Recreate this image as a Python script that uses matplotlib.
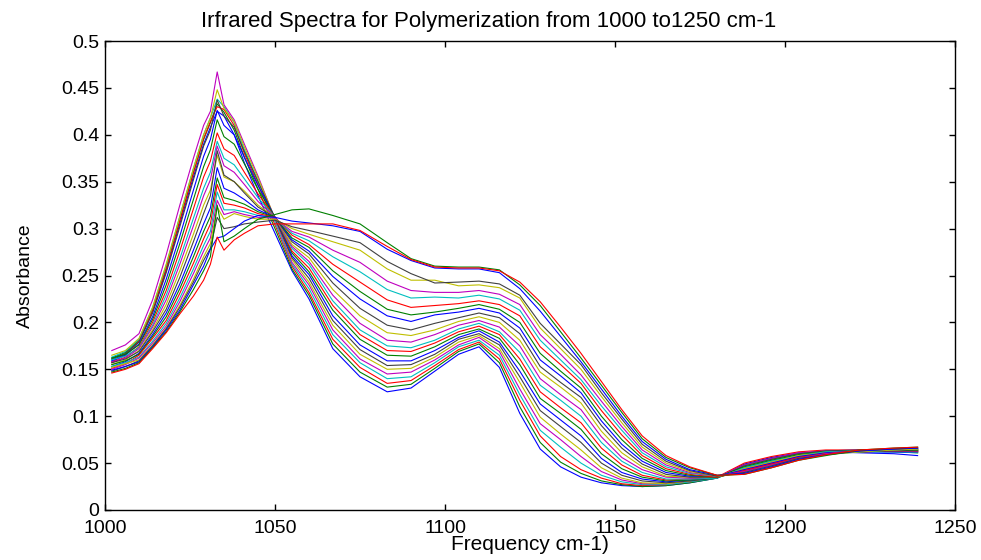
import numpy as np
import matplotlib
matplotlib.use('Agg')
import matplotlib.pyplot as plt

# Frecuencias (cm-1) donde se leyeron los valores de absorbancia
freq = [1002, 1006, 1010, 1014, 1018, 1022, 1026, 1029, 1031, 1033, 1035, 1038, 1041, 1045,
        1050, 1055, 1060, 1067, 1075, 1083, 1090, 1097, 1104, 1110, 1116, 1122, 1128, 1134,
        1140, 1146, 1152, 1158, 1165, 1172, 1180, 1188, 1196, 1204, 1212, 1222, 1232, 1239]

# Una fila por frecuencia, 24 espectros por fila (espectro 1 ... espectro 24)
r1002 = [0.160, 0.162, 0.158, 0.163, 0.170, 0.165, 0.161, 0.159, 0.162, 0.157, 0.160, 0.158, 0.155, 0.157, 0.153, 0.155, 0.151, 0.153, 0.150, 0.152, 0.148, 0.149, 0.147, 0.146]
r1006 = [0.166, 0.168, 0.165, 0.169, 0.176, 0.170, 0.167, 0.165, 0.166, 0.163, 0.164, 0.162, 0.160, 0.161, 0.158, 0.159, 0.156, 0.157, 0.155, 0.156, 0.153, 0.153, 0.151, 0.150]
r1010 = [0.180, 0.181, 0.180, 0.182, 0.188, 0.183, 0.179, 0.177, 0.176, 0.174, 0.173, 0.172, 0.170, 0.169, 0.167, 0.166, 0.165, 0.163, 0.162, 0.160, 0.159, 0.158, 0.157, 0.156]
r1014 = [0.212, 0.214, 0.213, 0.216, 0.224, 0.216, 0.210, 0.206, 0.203, 0.200, 0.197, 0.195, 0.192, 0.190, 0.187, 0.185, 0.183, 0.180, 0.178, 0.176, 0.175, 0.174, 0.173, 0.172]
r1018 = [0.255, 0.258, 0.257, 0.261, 0.272, 0.262, 0.253, 0.246, 0.240, 0.234, 0.229, 0.224, 0.219, 0.214, 0.210, 0.206, 0.202, 0.199, 0.196, 0.194, 0.193, 0.192, 0.190, 0.189]
r1022 = [0.305, 0.309, 0.308, 0.313, 0.325, 0.313, 0.302, 0.292, 0.284, 0.276, 0.268, 0.262, 0.255, 0.248, 0.241, 0.236, 0.231, 0.226, 0.222, 0.218, 0.216, 0.213, 0.211, 0.209]
r1026 = [0.355, 0.360, 0.359, 0.364, 0.375, 0.364, 0.352, 0.341, 0.331, 0.321, 0.311, 0.303, 0.294, 0.286, 0.277, 0.270, 0.263, 0.257, 0.252, 0.246, 0.243, 0.240, 0.235, 0.228]
r1029 = [0.390, 0.395, 0.396, 0.400, 0.410, 0.400, 0.388, 0.377, 0.366, 0.355, 0.343, 0.335, 0.325, 0.316, 0.305, 0.297, 0.289, 0.282, 0.276, 0.270, 0.266, 0.260, 0.255, 0.245]
r1031 = [0.408, 0.413, 0.414, 0.418, 0.425, 0.418, 0.405, 0.395, 0.384, 0.372, 0.360, 0.352, 0.341, 0.335, 0.322, 0.313, 0.305, 0.297, 0.290, 0.284, 0.279, 0.278, 0.270, 0.262]
r1033 = [0.425, 0.433, 0.430, 0.438, 0.467, 0.448, 0.437, 0.426, 0.416, 0.402, 0.393, 0.388, 0.378, 0.383, 0.365, 0.354, 0.347, 0.339, 0.330, 0.323, 0.312, 0.290, 0.325, 0.291]
r1035 = [0.420, 0.424, 0.427, 0.430, 0.432, 0.428, 0.420, 0.410, 0.398, 0.385, 0.375, 0.367, 0.355, 0.357, 0.343, 0.333, 0.327, 0.320, 0.315, 0.310, 0.300, 0.292, 0.286, 0.277]
r1038 = [0.400, 0.405, 0.410, 0.413, 0.416, 0.414, 0.408, 0.400, 0.390, 0.378, 0.368, 0.360, 0.350, 0.350, 0.338, 0.330, 0.325, 0.320, 0.318, 0.316, 0.302, 0.300, 0.292, 0.288]
r1041 = [0.370, 0.376, 0.380, 0.384, 0.390, 0.387, 0.382, 0.376, 0.369, 0.360, 0.353, 0.347, 0.340, 0.338, 0.331, 0.326, 0.322, 0.318, 0.315, 0.313, 0.305, 0.308, 0.300, 0.295]
r1045 = [0.335, 0.342, 0.347, 0.351, 0.356, 0.354, 0.350, 0.346, 0.342, 0.337, 0.333, 0.329, 0.325, 0.323, 0.320, 0.318, 0.316, 0.314, 0.312, 0.310, 0.307, 0.314, 0.310, 0.303]
r1050 = [0.295, 0.300, 0.304, 0.307, 0.310, 0.311, 0.311, 0.312, 0.312, 0.312, 0.312, 0.312, 0.312, 0.312, 0.312, 0.312, 0.312, 0.311, 0.311, 0.310, 0.309, 0.312, 0.315, 0.305]
r1055 = [0.255, 0.257, 0.260, 0.262, 0.264, 0.267, 0.269, 0.271, 0.274, 0.276, 0.279, 0.281, 0.283, 0.286, 0.288, 0.290, 0.293, 0.295, 0.297, 0.300, 0.302, 0.308, 0.320, 0.305]
r1060 = [0.225, 0.229, 0.232, 0.236, 0.240, 0.243, 0.247, 0.251, 0.254, 0.258, 0.262, 0.265, 0.269, 0.273, 0.276, 0.280, 0.283, 0.287, 0.291, 0.294, 0.298, 0.306, 0.321, 0.305]
r1067 = [0.172, 0.177, 0.182, 0.187, 0.192, 0.197, 0.202, 0.207, 0.213, 0.218, 0.223, 0.229, 0.235, 0.242, 0.249, 0.255, 0.262, 0.270, 0.277, 0.286, 0.292, 0.303, 0.314, 0.305]
r1075 = [0.142, 0.147, 0.152, 0.157, 0.161, 0.166, 0.171, 0.176, 0.182, 0.187, 0.192, 0.199, 0.207, 0.215, 0.225, 0.233, 0.243, 0.254, 0.264, 0.277, 0.285, 0.297, 0.305, 0.298]
r1083 = [0.126, 0.131, 0.135, 0.140, 0.145, 0.150, 0.154, 0.159, 0.165, 0.170, 0.175, 0.181, 0.189, 0.197, 0.207, 0.214, 0.224, 0.235, 0.244, 0.257, 0.265, 0.278, 0.285, 0.281]
r1090 = [0.130, 0.134, 0.138, 0.142, 0.147, 0.151, 0.155, 0.159, 0.164, 0.169, 0.173, 0.179, 0.186, 0.192, 0.201, 0.208, 0.216, 0.226, 0.234, 0.245, 0.252, 0.266, 0.268, 0.267]
r1097 = [0.148, 0.151, 0.154, 0.157, 0.160, 0.163, 0.166, 0.170, 0.174, 0.178, 0.181, 0.187, 0.192, 0.199, 0.208, 0.211, 0.218, 0.227, 0.232, 0.245, 0.242, 0.258, 0.260, 0.259]
r1104 = [0.166, 0.169, 0.171, 0.174, 0.176, 0.179, 0.182, 0.184, 0.187, 0.190, 0.193, 0.197, 0.201, 0.205, 0.211, 0.215, 0.220, 0.226, 0.232, 0.239, 0.243, 0.257, 0.259, 0.258]
r1110 = [0.174, 0.177, 0.179, 0.181, 0.184, 0.186, 0.188, 0.191, 0.193, 0.196, 0.199, 0.202, 0.206, 0.210, 0.215, 0.219, 0.223, 0.229, 0.234, 0.240, 0.244, 0.257, 0.259, 0.258]
r1116 = [0.152, 0.157, 0.161, 0.165, 0.169, 0.172, 0.176, 0.179, 0.183, 0.187, 0.190, 0.195, 0.200, 0.205, 0.210, 0.214, 0.219, 0.225, 0.230, 0.237, 0.241, 0.253, 0.256, 0.255]
r1122 = [0.103, 0.110, 0.117, 0.123, 0.129, 0.136, 0.142, 0.148, 0.155, 0.161, 0.168, 0.175, 0.181, 0.188, 0.194, 0.200, 0.207, 0.213, 0.219, 0.226, 0.229, 0.236, 0.240, 0.243]
r1128 = [0.065, 0.072, 0.079, 0.085, 0.092, 0.099, 0.106, 0.113, 0.119, 0.126, 0.133, 0.140, 0.147, 0.153, 0.160, 0.167, 0.174, 0.181, 0.187, 0.194, 0.199, 0.212, 0.218, 0.222]
r1134 = [0.046, 0.051, 0.057, 0.067, 0.075, 0.081, 0.089, 0.096, 0.103, 0.109, 0.117, 0.123, 0.131, 0.136, 0.143, 0.148, 0.155, 0.160, 0.166, 0.172, 0.177, 0.185, 0.190, 0.195]
r1140 = [0.035, 0.039, 0.043, 0.050, 0.057, 0.064, 0.072, 0.079, 0.086, 0.093, 0.100, 0.107, 0.114, 0.120, 0.125, 0.130, 0.135, 0.139, 0.144, 0.150, 0.155, 0.158, 0.162, 0.167]
r1146 = [0.029, 0.031, 0.034, 0.037, 0.041, 0.045, 0.050, 0.055, 0.060, 0.066, 0.072, 0.078, 0.084, 0.090, 0.095, 0.100, 0.106, 0.111, 0.116, 0.121, 0.125, 0.129, 0.133, 0.137]
r1152 = [0.026, 0.027, 0.028, 0.030, 0.032, 0.034, 0.037, 0.040, 0.044, 0.048, 0.052, 0.056, 0.061, 0.066, 0.070, 0.075, 0.080, 0.085, 0.089, 0.093, 0.097, 0.100, 0.104, 0.107]
r1158 = [0.025, 0.025, 0.026, 0.027, 0.028, 0.029, 0.031, 0.033, 0.035, 0.037, 0.040, 0.043, 0.046, 0.049, 0.052, 0.055, 0.058, 0.061, 0.064, 0.067, 0.070, 0.073, 0.076, 0.079]
r1165 = [0.026, 0.026, 0.027, 0.027, 0.028, 0.028, 0.029, 0.030, 0.031, 0.032, 0.033, 0.035, 0.036, 0.038, 0.040, 0.042, 0.044, 0.046, 0.048, 0.050, 0.052, 0.054, 0.056, 0.058]
r1172 = [0.029, 0.029, 0.030, 0.030, 0.031, 0.031, 0.031, 0.032, 0.032, 0.033, 0.033, 0.034, 0.035, 0.035, 0.036, 0.037, 0.038, 0.039, 0.040, 0.041, 0.042, 0.043, 0.045, 0.046]
r1180 = [0.034, 0.034, 0.035, 0.034, 0.035, 0.035, 0.034, 0.035, 0.035, 0.035, 0.034, 0.035, 0.035, 0.035, 0.036, 0.035, 0.035, 0.036, 0.036, 0.036, 0.036, 0.037, 0.037, 0.037]
r1188 = [0.049, 0.048, 0.050, 0.047, 0.048, 0.046, 0.047, 0.045, 0.046, 0.044, 0.045, 0.043, 0.044, 0.042, 0.043, 0.041, 0.042, 0.040, 0.041, 0.039, 0.040, 0.039, 0.038, 0.038]
r1196 = [0.056, 0.055, 0.057, 0.054, 0.055, 0.053, 0.054, 0.052, 0.053, 0.051, 0.052, 0.050, 0.051, 0.049, 0.050, 0.048, 0.049, 0.047, 0.048, 0.046, 0.047, 0.046, 0.045, 0.045]
r1204 = [0.061, 0.060, 0.062, 0.060, 0.061, 0.059, 0.060, 0.058, 0.059, 0.058, 0.058, 0.057, 0.058, 0.056, 0.057, 0.055, 0.056, 0.055, 0.055, 0.054, 0.055, 0.054, 0.053, 0.053]
r1212 = [0.062, 0.063, 0.064, 0.062, 0.063, 0.062, 0.063, 0.061, 0.062, 0.061, 0.062, 0.060, 0.061, 0.060, 0.061, 0.060, 0.060, 0.059, 0.060, 0.059, 0.059, 0.059, 0.058, 0.059]
r1222 = [0.061, 0.063, 0.064, 0.062, 0.064, 0.063, 0.064, 0.062, 0.063, 0.062, 0.063, 0.062, 0.063, 0.062, 0.063, 0.062, 0.063, 0.062, 0.063, 0.062, 0.063, 0.063, 0.064, 0.064]
r1232 = [0.060, 0.062, 0.063, 0.062, 0.064, 0.063, 0.063, 0.062, 0.063, 0.063, 0.064, 0.063, 0.064, 0.063, 0.064, 0.064, 0.064, 0.064, 0.065, 0.064, 0.065, 0.065, 0.066, 0.066]
r1239 = [0.058, 0.061, 0.062, 0.061, 0.063, 0.062, 0.063, 0.062, 0.063, 0.063, 0.064, 0.063, 0.064, 0.064, 0.065, 0.064, 0.065, 0.065, 0.066, 0.065, 0.066, 0.066, 0.067, 0.067]

rows = [r1002, r1006, r1010, r1014, r1018, r1022, r1026, r1029, r1031, r1033, r1035, r1038,
        r1041, r1045, r1050, r1055, r1060, r1067, r1075, r1083, r1090, r1097, r1104, r1110,
        r1116, r1122, r1128, r1134, r1140, r1146, r1152, r1158, r1165, r1172, r1180, r1188,
        r1196, r1204, r1212, r1222, r1232, r1239]

# Orden de colores clasico de MATLAB (b, g, r, c, m, y, k)
matlab_colors = [(0, 0, 1), (0, 0.5, 0), (1, 0, 0), (0, 0.75, 0.75),
                 (0.75, 0, 0.75), (0.75, 0.75, 0), (0.25, 0.25, 0.25)]

x_ticks = [1000, 1050, 1100, 1150, 1200, 1250]
y_ticks = [0, 0.05, 0.1, 0.15, 0.2, 0.25, 0.3, 0.35, 0.4, 0.45, 0.5]
y_tick_labels = ['0', '0.05', '0.1', '0.15', '0.2', '0.25', '0.3', '0.35', '0.4', '0.45', '0.5']

plt.rcParams['font.family'] = ['Liberation Sans', 'DejaVu Sans']

absorb = np.array(rows)  # (frecuencias, espectros)

fig = plt.figure(figsize=(9.81, 5.6), dpi=100)
ax = fig.add_axes([105 / 981, 1 - 510 / 560, (955 - 105) / 981, (510 - 41) / 560])

for i in range(absorb.shape[1]):
    ax.plot(freq, absorb[:, i], color=matlab_colors[i % 7], linewidth=0.8)

ax.set_xlim(1000, 1250)
ax.set_ylim(0, 0.5)
ax.set_xticks(x_ticks)
ax.set_yticks(y_ticks)
ax.set_yticklabels(y_tick_labels)
ax.tick_params(direction='in', length=4, width=1, top=True, right=True, labelsize=14)
ax.tick_params(axis='x', pad=7.5)
ax.tick_params(axis='y', pad=4)
for s in ax.spines.values():
    s.set_linewidth(1)

# El titulo del original esta desplazado a la izquierda del centro del eje
fig.text(489 / 981, 1 - 22 / 560, 'Irfrared Spectra for Polymerization from 1000 to1250 cm-1',
         fontsize=16, ha='center', va='center')
ax.set_xlabel('Frequency cm-1)', fontsize=15, labelpad=-2)
ax.set_ylabel('Absorbance', fontsize=14, labelpad=20)

fig.savefig('out.png', dpi=100)
